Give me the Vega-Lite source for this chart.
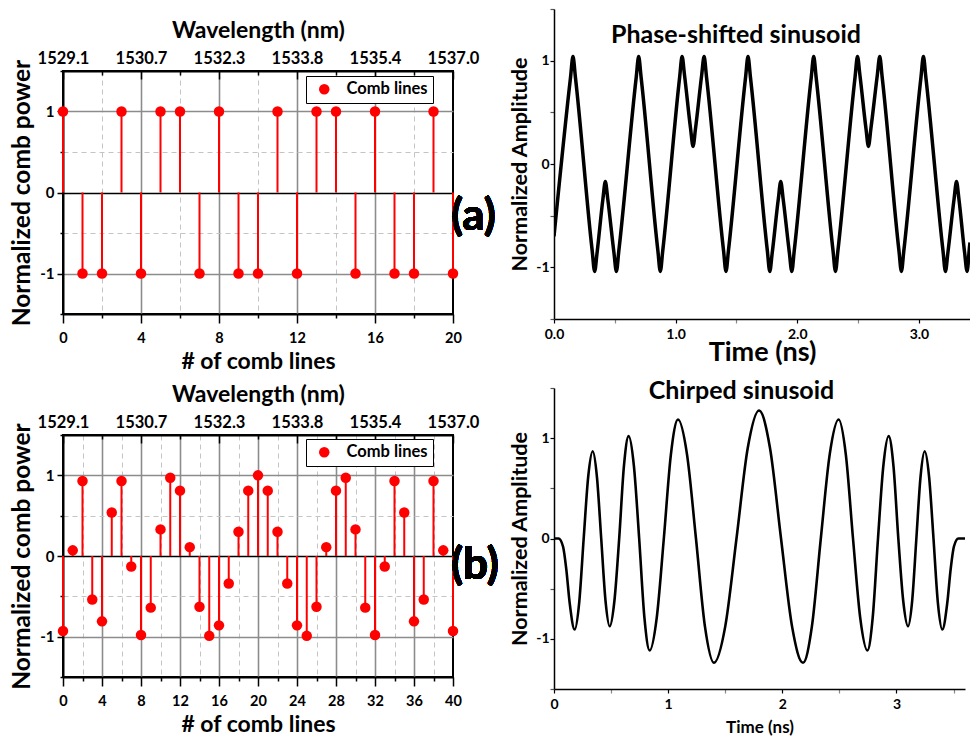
{
  "$schema": "https://vega.github.io/schema/vega-lite/v6.json",
  "background": "white",
  "padding": {"left": 8, "top": 2, "right": 0, "bottom": 0},
  "config": {
    "font": "Lato",
    "view": {"stroke": null},
    "axis": {"labelFont": "Lato", "titleFont": "Lato", "labelFontWeight": "bold", "titleFontWeight": "bold", "labelColor": "black", "titleColor": "black", "domainColor": "black", "tickColor": "black", "labelFlush": false, "labelOverlap": false},
    "title": {"font": "Lato", "fontWeight": "bold", "color": "black"}
  },
  "resolve": {"scale": {"color": "independent"}, "legend": {"color": "independent"}},
  "hconcat": [
    {
      "resolve": {"scale": {"color": "independent"}, "legend": {"color": "independent"}},
      "vconcat": [
        {"width": 390, "height": 62, "data": {"values": []}, "mark": "point", "view": {"stroke": null}},
        {
          "resolve": {"scale": {"color": "independent"}, "legend": {"color": "independent"}},
          "vconcat": [
            {
              "width": 390, "height": 243,
              "view": {"stroke": "black", "strokeWidth": 2},
              "data": {"values": [
                {"n": 0, "v": 1}, {"n": 1, "v": -1}, {"n": 2, "v": -1}, {"n": 3, "v": 1}, {"n": 4, "v": -1},
                {"n": 5, "v": 1}, {"n": 6, "v": 1}, {"n": 7, "v": -1}, {"n": 8, "v": 1}, {"n": 9, "v": -1},
                {"n": 10, "v": -1}, {"n": 11, "v": 1}, {"n": 12, "v": -1}, {"n": 13, "v": 1}, {"n": 14, "v": 1},
                {"n": 15, "v": -1}, {"n": 16, "v": 1}, {"n": 17, "v": -1}, {"n": 18, "v": -1}, {"n": 19, "v": 1},
                {"n": 20, "v": -1}
              ]},
              "resolve": {"axis": {"x": "independent"}},
              "layer": [
                {
                  "mark": {"type": "rule", "color": "#ff0000", "strokeWidth": 2},
                  "encoding": {
                    "x": {"field": "n", "type": "quantitative", "scale": {"domain": [0, 20], "nice": false, "zero": false},
                      "axis": {"orient": "bottom", "values": [0, 2, 4, 6, 8, 10, 12, 14, 16, 18, 20], "title": "# of comb lines",
                        "labelExpr": "datum.value % 4 === 0 ? '' + datum.value : ''", "labelFontSize": 14.5, "labelPadding": 8,
                        "titleFontSize": 23, "titlePadding": 6,
                        "tickSize": {"condition": {"test": "datum.value % 4 === 0", "value": 9}, "value": 4}, "tickWidth": 1.5, "domainWidth": 2,
                        "grid": true,
                        "gridColor": {"condition": {"test": "datum.value % 4 === 0", "value": "#8c8c8c"}, "value": "#c4c4c4"},
                        "gridDash": {"condition": {"test": "datum.value % 4 === 0", "value": []}, "value": [5, 4]},
                        "gridWidth": {"condition": {"test": "datum.value % 4 === 0", "value": 1.6}, "value": 1},
                        "gridOpacity": {"condition": {"test": "datum.value === 0 || datum.value === 20", "value": 0}, "value": 1}}},
                    "y": {"field": "v", "type": "quantitative", "scale": {"domain": [-1.5, 1.5], "nice": false},
                      "axis": {"values": [-1.5, -1, -0.5, 0, 0.5, 1, 1.5], "title": "Normalized comb power",
                        "labelExpr": "datum.value % 1 === 0 ? '' + datum.value : ''", "labelFontSize": 15, "labelPadding": 3,
                        "titleFontSize": 24.5, "titlePadding": 5,
                        "tickSize": {"condition": {"test": "datum.value % 1 === 0", "value": 6}, "value": 3}, "tickWidth": 1.5, "domainWidth": 2,
                        "grid": true,
                        "gridColor": {"condition": [{"test": "datum.value === 0", "value": "black"}, {"test": "abs(datum.value) === 1", "value": "#8c8c8c"}], "value": "#c4c4c4"},
                        "gridDash": {"condition": {"test": "datum.value % 1 === 0", "value": []}, "value": [5, 4]},
                        "gridWidth": {"condition": {"test": "datum.value % 1 === 0", "value": 1.6}, "value": 1},
                        "gridOpacity": {"condition": {"test": "abs(datum.value) === 1.5", "value": 0}, "value": 1}}},
                    "y2": {"datum": 0}
                  }
                },
                {
                  "mark": {"type": "circle", "size": 110, "opacity": 1},
                  "encoding": {
                    "x": {"field": "n", "type": "quantitative",
                      "axis": {"orient": "top", "values": [0, 2, 4, 6, 8, 10, 12, 14, 16, 18, 20], "title": "Wavelength (nm)",
                        "labelExpr": "datum.value === 0 ? '1529.1' : datum.value === 4 ? '1530.7' : datum.value === 8 ? '1532.3' : datum.value === 12 ? '1533.8' : datum.value === 16 ? '1535.4' : datum.value === 20 ? '1537.0' : ''",
                        "labelFontSize": 16.5, "labelPadding": 13, "titleFontSize": 23, "titlePadding": 4,
                        "tickSize": {"condition": {"test": "datum.value % 4 === 0", "value": -8}, "value": -4}, "tickWidth": 1.5, "domainWidth": 2, "grid": false}},
                    "y": {"field": "v", "type": "quantitative"},
                    "color": {"datum": "Comb lines", "type": "nominal", "scale": {"range": ["#ff0000"]},
                      "legend": {"title": null, "orient": "none", "legendX": 243, "legendY": 5, "strokeColor": "black", "padding": 5, "fillColor": "white",
                        "labelFontSize": 16.5, "labelFont": "Lato", "labelFontWeight": "bold", "labelColor": "black",
                        "symbolType": "circle", "symbolSize": 110, "symbolOffset": 5, "labelOffset": 14, "symbolStrokeWidth": 0, "symbolOpacity": 1}}
                  }
                },
                {
                  "mark": {"type": "text", "text": "(a)", "font": "Lato", "fontWeight": "bold", "fontSize": 44, "align": "left", "baseline": "middle", "dx": -2, "color": "black"},
                  "encoding": {
                    "x": {"datum": 20, "type": "quantitative", "axis": null},
                    "y": {"datum": -0.3, "type": "quantitative"}
                  }
                }
              ]
            },
            {
              "width": 390, "height": 242,
              "view": {"stroke": "black", "strokeWidth": 2},
              "data": {"values": [
                {"n": 0, "v": -0.93}, {"n": 1, "v": 0.07}, {"n": 2, "v": 0.93}, {"n": 3, "v": -0.54}, {"n": 4, "v": -0.81},
                {"n": 5, "v": 0.54}, {"n": 6, "v": 0.93}, {"n": 7, "v": -0.13}, {"n": 8, "v": -0.98}, {"n": 9, "v": -0.64},
                {"n": 10, "v": 0.33}, {"n": 11, "v": 0.97}, {"n": 12, "v": 0.81}, {"n": 13, "v": 0.11}, {"n": 14, "v": -0.63},
                {"n": 15, "v": -0.99}, {"n": 16, "v": -0.86}, {"n": 17, "v": -0.34}, {"n": 18, "v": 0.3}, {"n": 19, "v": 0.81},
                {"n": 20, "v": 1.0}, {"n": 21, "v": 0.81}, {"n": 22, "v": 0.3}, {"n": 23, "v": -0.34}, {"n": 24, "v": -0.86},
                {"n": 25, "v": -0.99}, {"n": 26, "v": -0.63}, {"n": 27, "v": 0.11}, {"n": 28, "v": 0.81}, {"n": 29, "v": 0.97},
                {"n": 30, "v": 0.33}, {"n": 31, "v": -0.64}, {"n": 32, "v": -0.98}, {"n": 33, "v": -0.13}, {"n": 34, "v": 0.93},
                {"n": 35, "v": 0.54}, {"n": 36, "v": -0.81}, {"n": 37, "v": -0.54}, {"n": 38, "v": 0.93}, {"n": 39, "v": 0.07},
                {"n": 40, "v": -0.93}
              ]},
              "resolve": {"axis": {"x": "independent"}},
              "layer": [
                {
                  "mark": {"type": "rule", "color": "#ff0000", "strokeWidth": 2},
                  "encoding": {
                    "x": {"field": "n", "type": "quantitative", "scale": {"domain": [0, 40], "nice": false, "zero": false},
                      "axis": {"orient": "bottom", "values": [0, 2, 4, 6, 8, 10, 12, 14, 16, 18, 20, 22, 24, 26, 28, 30, 32, 34, 36, 38, 40], "title": "# of comb lines",
                        "labelExpr": "datum.value % 4 === 0 ? '' + datum.value : ''", "labelFontSize": 14.5, "labelPadding": 8,
                        "titleFontSize": 23, "titlePadding": 6,
                        "tickSize": {"condition": {"test": "datum.value % 4 === 0", "value": 9}, "value": 4}, "tickWidth": 1.5, "domainWidth": 2,
                        "grid": true,
                        "gridColor": {"condition": {"test": "datum.value % 4 === 0", "value": "#8c8c8c"}, "value": "#c4c4c4"},
                        "gridDash": {"condition": {"test": "datum.value % 4 === 0", "value": []}, "value": [5, 4]},
                        "gridWidth": {"condition": {"test": "datum.value % 4 === 0", "value": 1.6}, "value": 1},
                        "gridOpacity": {"condition": {"test": "datum.value === 0 || datum.value === 40", "value": 0}, "value": 1}}},
                    "y": {"field": "v", "type": "quantitative", "scale": {"domain": [-1.5, 1.5], "nice": false},
                      "axis": {"values": [-1.5, -1, -0.5, 0, 0.5, 1, 1.5], "title": "Normalized comb power",
                        "labelExpr": "datum.value % 1 === 0 ? '' + datum.value : ''", "labelFontSize": 15, "labelPadding": 3,
                        "titleFontSize": 24.5, "titlePadding": 5,
                        "tickSize": {"condition": {"test": "datum.value % 1 === 0", "value": 6}, "value": 3}, "tickWidth": 1.5, "domainWidth": 2,
                        "grid": true,
                        "gridColor": {"condition": [{"test": "datum.value === 0", "value": "black"}, {"test": "abs(datum.value) === 1", "value": "#8c8c8c"}], "value": "#c4c4c4"},
                        "gridDash": {"condition": {"test": "datum.value % 1 === 0", "value": []}, "value": [5, 4]},
                        "gridWidth": {"condition": {"test": "datum.value % 1 === 0", "value": 1.6}, "value": 1},
                        "gridOpacity": {"condition": {"test": "abs(datum.value) === 1.5", "value": 0}, "value": 1}}},
                    "y2": {"datum": 0}
                  }
                },
                {
                  "mark": {"type": "circle", "size": 110, "opacity": 1},
                  "encoding": {
                    "x": {"field": "n", "type": "quantitative",
                      "axis": {"orient": "top", "values": [0, 4, 8, 12, 16, 20, 24, 28, 32, 36, 40], "title": "Wavelength (nm)",
                        "labelExpr": "datum.value === 0 ? '1529.1' : datum.value === 8 ? '1530.7' : datum.value === 16 ? '1532.3' : datum.value === 24 ? '1533.8' : datum.value === 32 ? '1535.4' : datum.value === 40 ? '1537.0' : ''",
                        "labelFontSize": 16.5, "labelPadding": 13, "titleFontSize": 23, "titlePadding": 4,
                        "tickSize": {"condition": {"test": "datum.value % 8 === 0", "value": -8}, "value": -4}, "tickWidth": 1.5, "domainWidth": 2, "grid": false}},
                    "y": {"field": "v", "type": "quantitative"},
                    "color": {"datum": "Comb lines", "type": "nominal", "scale": {"range": ["#ff0000"]},
                      "legend": {"title": null, "orient": "none", "legendX": 243, "legendY": 4, "strokeColor": "black", "padding": 5, "fillColor": "white",
                        "labelFontSize": 16.5, "labelFont": "Lato", "labelFontWeight": "bold", "labelColor": "black",
                        "symbolType": "circle", "symbolSize": 110, "symbolOffset": 5, "labelOffset": 14, "symbolStrokeWidth": 0, "symbolOpacity": 1}}
                  }
                },
                {
                  "mark": {"type": "text", "text": "(b)", "font": "Lato", "fontWeight": "bold", "fontSize": 44, "align": "left", "baseline": "middle", "dx": -2, "color": "black"},
                  "encoding": {
                    "x": {"datum": 40, "type": "quantitative", "axis": null},
                    "y": {"datum": -0.13, "type": "quantitative"}
                  }
                }
              ]
            }
          ],
          "spacing": 121,
          "bounds": "flush"
        }
      ],
      "spacing": 0,
      "bounds": "flush"
    },
    {
      "vconcat": [
        {
          "width": 416, "height": 310,
          "view": {"stroke": null},
          "title": {"text": "Phase-shifted sinusoid", "frame": "group", "anchor": "middle", "dx": -26, "offset": -66, "baseline": "alphabetic", "fontSize": 25},
          "data": {"values": [
            {"t": 0, "a": -0.7}, {"t": 0.136, "a": 0.84}, {"t": 0.156, "a": 1.04}, {"t": 0.176, "a": 0.84},
            {"t": 0.314, "a": -0.84}, {"t": 0.334, "a": -1.04}, {"t": 0.354, "a": -0.86},
            {"t": 0.402, "a": -0.34}, {"t": 0.422, "a": -0.17}, {"t": 0.442, "a": -0.34},
            {"t": 0.493, "a": -0.86}, {"t": 0.513, "a": -1.04}, {"t": 0.533, "a": -0.84},
            {"t": 0.676, "a": 0.84}, {"t": 0.696, "a": 1.04}, {"t": 0.716, "a": 0.84},
            {"t": 0.854, "a": -0.84}, {"t": 0.874, "a": -1.04}, {"t": 0.894, "a": -0.84},
            {"t": 1.033, "a": 0.84}, {"t": 1.053, "a": 1.04}, {"t": 1.073, "a": 0.86},
            {"t": 1.123, "a": 0.34}, {"t": 1.143, "a": 0.17}, {"t": 1.163, "a": 0.34},
            {"t": 1.214, "a": 0.86}, {"t": 1.234, "a": 1.04}, {"t": 1.254, "a": 0.84},
            {"t": 1.394, "a": -0.84}, {"t": 1.414, "a": -1.04}, {"t": 1.434, "a": -0.84},
            {"t": 1.575, "a": 0.84}, {"t": 1.595, "a": 1.04}, {"t": 1.615, "a": 0.84},
            {"t": 1.754, "a": -0.84}, {"t": 1.774, "a": -1.04}, {"t": 1.794, "a": -0.86},
            {"t": 1.844, "a": -0.34}, {"t": 1.864, "a": -0.17}, {"t": 1.884, "a": -0.34},
            {"t": 1.935, "a": -0.86}, {"t": 1.955, "a": -1.04}, {"t": 1.975, "a": -0.84},
            {"t": 2.115, "a": 0.84}, {"t": 2.135, "a": 1.04}, {"t": 2.155, "a": 0.84},
            {"t": 2.294, "a": -0.84}, {"t": 2.314, "a": -1.04}, {"t": 2.334, "a": -0.84},
            {"t": 2.475, "a": 0.84}, {"t": 2.495, "a": 1.04}, {"t": 2.515, "a": 0.86},
            {"t": 2.565, "a": 0.34}, {"t": 2.585, "a": 0.17}, {"t": 2.605, "a": 0.34},
            {"t": 2.658, "a": 0.86}, {"t": 2.678, "a": 1.04}, {"t": 2.698, "a": 0.84},
            {"t": 2.836, "a": -0.84}, {"t": 2.856, "a": -1.04}, {"t": 2.876, "a": -0.84},
            {"t": 3.017, "a": 0.84}, {"t": 3.037, "a": 1.04}, {"t": 3.057, "a": 0.84},
            {"t": 3.198, "a": -0.84}, {"t": 3.218, "a": -1.04}, {"t": 3.238, "a": -0.86},
            {"t": 3.289, "a": -0.34}, {"t": 3.309, "a": -0.17}, {"t": 3.329, "a": -0.34},
            {"t": 3.376, "a": -0.86}, {"t": 3.396, "a": -1.04}, {"t": 3.416, "a": -0.8}, {"t": 3.42, "a": -0.76}
          ]},
          "mark": {"type": "line", "color": "black", "strokeWidth": 3.5, "interpolate": "monotone", "clip": true},
          "encoding": {
            "x": {"field": "t", "type": "quantitative", "scale": {"domain": [0, 3.42], "nice": false, "zero": false},
              "axis": {"values": [0, 0.5, 1, 1.5, 2, 2.5, 3], "title": "Time (ns)",
                "labelExpr": "datum.value % 1 === 0 ? format(datum.value, '.1f') : ''", "labelFontSize": 14, "labelPadding": 4,
                "titleFontSize": 27, "titlePadding": -2, "tickSize": 4,
                "tickColor": {"condition": {"test": "datum.value % 1 === 0", "value": "black"}, "value": "#888888"},
                "tickWidth": 1.2, "domainWidth": 1.5, "grid": false}},
            "y": {"field": "a", "type": "quantitative", "scale": {"domain": [-1.5, 1.5], "nice": false},
              "axis": {"values": [-1.5, -1, -0.5, 0, 0.5, 1, 1.5], "title": "Normalized Amplitude",
                "labelExpr": "datum.value % 1 === 0 ? '' + datum.value : ''", "labelFontSize": 14, "labelPadding": 1,
                "titleFontSize": 21.5, "titlePadding": 4, "tickSize": 4,
                "tickColor": {"condition": {"test": "datum.value % 1 === 0", "value": "black"}, "value": "#555555"},
                "tickWidth": 1.2, "domainWidth": 1.5, "grid": false}}
          }
        },
        {
          "width": 411, "height": 301,
          "view": {"stroke": null},
          "title": {"text": "Chirped sinusoid", "frame": "group", "anchor": "middle", "dx": -18, "offset": -43, "baseline": "alphabetic", "fontSize": 25},
          "data": {"values": [
            {"t": 0, "a": 0}, {"t": 0.04, "a": 0}, {"t": 0.079, "a": -0.08}, {"t": 0.108, "a": -0.31}, {"t": 0.137, "a": -0.64},
            {"t": 0.181, "a": -0.907}, {"t": 0.2205, "a": -0.641}, {"t": 0.26, "a": 0}, {"t": 0.2995, "a": 0.615},
            {"t": 0.339, "a": 0.87}, {"t": 0.376, "a": 0.615}, {"t": 0.4135, "a": 0}, {"t": 0.451, "a": -0.618},
            {"t": 0.488, "a": -0.874}, {"t": 0.5295, "a": -0.618}, {"t": 0.571, "a": 0}, {"t": 0.6125, "a": 0.721},
            {"t": 0.654, "a": 1.02}, {"t": 0.7, "a": 0.721}, {"t": 0.746, "a": 0}, {"t": 0.792, "a": -0.789},
            {"t": 0.838, "a": -1.116}, {"t": 0.9, "a": -0.789}, {"t": 0.962, "a": 0}, {"t": 1.024, "a": 0.839},
            {"t": 1.086, "a": 1.186}, {"t": 1.165, "a": 0.839}, {"t": 1.2435, "a": 0}, {"t": 1.322, "a": -0.876},
            {"t": 1.401, "a": -1.239}, {"t": 1.5, "a": -0.876}, {"t": 1.5985, "a": 0}, {"t": 1.697, "a": 0.902},
            {"t": 1.796, "a": 1.276}, {"t": 1.892, "a": 0.902}, {"t": 1.9885, "a": 0}, {"t": 2.085, "a": -0.876},
            {"t": 2.181, "a": -1.239}, {"t": 2.259, "a": -0.876}, {"t": 2.337, "a": 0}, {"t": 2.415, "a": 0.839},
            {"t": 2.493, "a": 1.186}, {"t": 2.556, "a": 0.839}, {"t": 2.619, "a": 0}, {"t": 2.682, "a": -0.789},
            {"t": 2.745, "a": -1.116}, {"t": 2.7915, "a": -0.789}, {"t": 2.838, "a": 0}, {"t": 2.8845, "a": 0.721},
            {"t": 2.931, "a": 1.02}, {"t": 2.9735, "a": 0.721}, {"t": 3.016, "a": 0}, {"t": 3.0585, "a": -0.618},
            {"t": 3.101, "a": -0.874}, {"t": 3.1375, "a": -0.618}, {"t": 3.174, "a": 0}, {"t": 3.2105, "a": 0.615},
            {"t": 3.247, "a": 0.87}, {"t": 3.2855, "a": 0.615}, {"t": 3.324, "a": 0}, {"t": 3.3625, "a": -0.641},
            {"t": 3.401, "a": -0.907}, {"t": 3.445, "a": -0.64}, {"t": 3.474, "a": -0.31}, {"t": 3.503, "a": -0.08},
            {"t": 3.542, "a": 0}, {"t": 3.6, "a": 0}
          ]},
          "mark": {"type": "line", "color": "black", "strokeWidth": 2.6, "interpolate": "monotone", "clip": true},
          "encoding": {
            "x": {"field": "t", "type": "quantitative", "scale": {"domain": [0, 3.6], "nice": false, "zero": false},
              "axis": {"values": [0, 0.5, 1, 1.5, 2, 2.5, 3, 3.5], "title": "Time (ns)",
                "labelExpr": "datum.value % 1 === 0 ? '' + datum.value : ''", "labelFontSize": 14, "labelPadding": 4,
                "titleFontSize": 17, "titlePadding": 8, "tickSize": 4,
                "tickColor": {"condition": {"test": "datum.value % 1 === 0", "value": "black"}, "value": "#888888"},
                "tickWidth": 1.2, "domainWidth": 1.5, "grid": false}},
            "y": {"field": "a", "type": "quantitative", "scale": {"domain": [-1.5, 1.5], "nice": false},
              "axis": {"values": [-1.5, -1, -0.5, 0, 0.5, 1, 1.5], "title": "Normalized Amplitude",
                "labelExpr": "datum.value % 1 === 0 ? '' + datum.value : ''", "labelFontSize": 14, "labelPadding": 1,
                "titleFontSize": 21.5, "titlePadding": 4, "tickSize": 4,
                "tickColor": {"condition": {"test": "datum.value % 1 === 0", "value": "black"}, "value": "#555555"},
                "tickWidth": 1.2, "domainWidth": 1.5, "grid": false}}
          }
        }
      ],
      "spacing": 69,
      "bounds": "flush"
    }
  ],
  "spacing": 9,
  "align": "each",
  "bounds": "full"
}
